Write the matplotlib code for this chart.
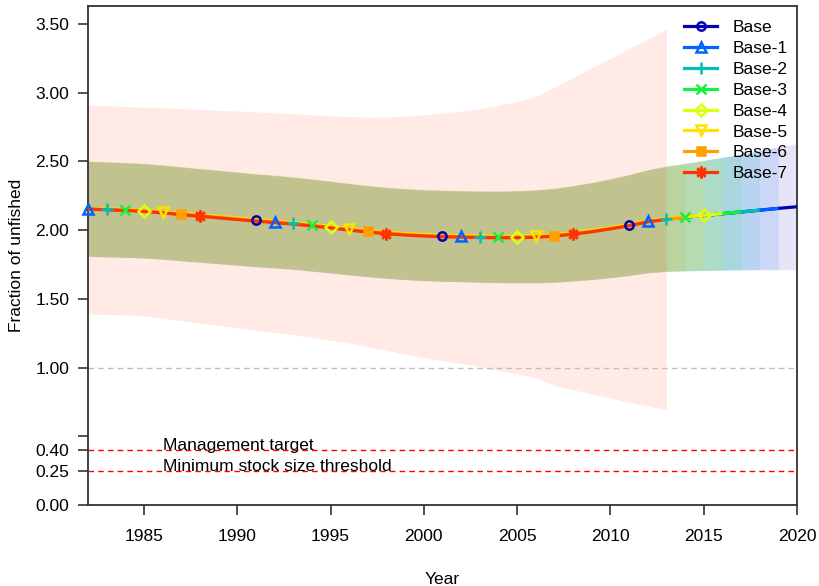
import numpy as np
import matplotlib
matplotlib.use("Agg")
import matplotlib.pyplot as plt

plt.rcParams["font.family"] = ["Liberation Sans", "DejaVu Sans"]

# ---- data -----------------------------------------------------------------
first_year = 1982
model_names = ["Base", "Base-1", "Base-2", "Base-3", "Base-4", "Base-5", "Base-6", "Base-7"]
end_years = [2020, 2019, 2018, 2017, 2016, 2015, 2014, 2013]

# Spawning output relative to unfished, one series per retrospective peel
base = [2.155, 2.150, 2.146, 2.140, 2.130, 2.118, 2.106, 2.095, 2.083, 2.071,
        2.061, 2.050, 2.036, 2.022, 2.006, 1.992, 1.980, 1.970, 1.963, 1.958,
        1.955, 1.952, 1.950, 1.951, 1.954, 1.962, 1.976, 1.993, 2.013, 2.036,
        2.064, 2.082, 2.094, 2.106, 2.119, 2.132, 2.145, 2.158, 2.170]
base_1 = [2.155, 2.150, 2.146, 2.140, 2.130, 2.118, 2.106, 2.095, 2.083, 2.071,
          2.061, 2.050, 2.036, 2.022, 2.006, 1.992, 1.980, 1.970, 1.963, 1.958,
          1.955, 1.952, 1.950, 1.951, 1.954, 1.962, 1.976, 1.993, 2.013, 2.036,
          2.064, 2.082, 2.094, 2.106, 2.119, 2.132, 2.145, 2.158]
base_2 = [2.156, 2.151, 2.147, 2.141, 2.131, 2.119, 2.107, 2.096, 2.084, 2.072,
          2.062, 2.051, 2.037, 2.023, 2.007, 1.993, 1.981, 1.971, 1.964, 1.959,
          1.956, 1.953, 1.951, 1.952, 1.955, 1.963, 1.977, 1.994, 2.014, 2.037,
          2.065, 2.083, 2.095, 2.107, 2.120, 2.133, 2.146]
base_3 = [2.156, 2.151, 2.147, 2.141, 2.131, 2.119, 2.107, 2.096, 2.084, 2.072,
          2.062, 2.051, 2.037, 2.023, 2.007, 1.993, 1.981, 1.971, 1.964, 1.959,
          1.956, 1.953, 1.951, 1.952, 1.955, 1.963, 1.977, 1.994, 2.014, 2.037,
          2.065, 2.083, 2.095, 2.107, 2.120, 2.133]
base_4 = [2.157, 2.152, 2.148, 2.142, 2.132, 2.120, 2.108, 2.097, 2.085, 2.073,
          2.063, 2.052, 2.038, 2.024, 2.008, 1.994, 1.982, 1.972, 1.965, 1.960,
          1.957, 1.954, 1.952, 1.953, 1.956, 1.964, 1.978, 1.995, 2.015, 2.038,
          2.066, 2.084, 2.096, 2.108, 2.121]
base_5 = [2.158, 2.154, 2.150, 2.144, 2.135, 2.123, 2.111, 2.100, 2.088, 2.076,
          2.066, 2.055, 2.041, 2.027, 2.011, 1.997, 1.985, 1.975, 1.968, 1.963,
          1.960, 1.957, 1.955, 1.956, 1.959, 1.967, 1.981, 1.998, 2.018, 2.041,
          2.068, 2.086, 2.098, 2.110]
base_6 = [2.155, 2.150, 2.146, 2.139, 2.129, 2.117, 2.105, 2.093, 2.081, 2.069,
          2.059, 2.048, 2.034, 2.020, 2.004, 1.990, 1.978, 1.968, 1.961, 1.956,
          1.953, 1.950, 1.948, 1.949, 1.952, 1.960, 1.974, 1.991, 2.011, 2.034,
          2.062, 2.080, 2.092]
base_7 = [2.153, 2.148, 2.143, 2.136, 2.125, 2.113, 2.101, 2.089, 2.077, 2.065,
          2.055, 2.044, 2.030, 2.016, 2.000, 1.986, 1.974, 1.964, 1.957, 1.952,
          1.949, 1.946, 1.944, 1.945, 1.948, 1.956, 1.971, 1.988, 2.009, 2.032,
          2.060, 2.078]

# Half-width of the 95% interval for Base .. Base-6 (by year from 1982)
half_width = [0.345, 0.345, 0.344, 0.343, 0.342, 0.341, 0.340, 0.339, 0.338, 0.337,
              0.336, 0.335, 0.334, 0.333, 0.332, 0.331, 0.330, 0.330, 0.330, 0.330,
              0.330, 0.331, 0.332, 0.334, 0.337, 0.341, 0.346, 0.352, 0.359, 0.366,
              0.374, 0.382, 0.390, 0.400, 0.410, 0.421, 0.433, 0.446, 0.460]

# 95% interval of Base-7
base_7_upper = [2.910, 2.905, 2.900, 2.895, 2.890, 2.884, 2.878, 2.872, 2.866, 2.860,
                2.853, 2.846, 2.839, 2.832, 2.826, 2.822, 2.823, 2.829, 2.839, 2.851,
                2.866, 2.884, 2.908, 2.935, 2.970, 3.040, 3.110, 3.180, 3.250, 3.320,
                3.390, 3.460]
base_7_lower = [1.390, 1.387, 1.383, 1.376, 1.360, 1.342, 1.324, 1.306, 1.288, 1.270,
                1.255, 1.240, 1.220, 1.198, 1.178, 1.150, 1.125, 1.098, 1.072, 1.050,
                1.030, 1.007, 0.978, 0.955, 0.926, 0.868, 0.838, 0.808, 0.778, 0.749,
                0.720, 0.692]

series = [base, base_1, base_2, base_3, base_4, base_5, base_6, base_7]

colors = ["#0000B4", "#0063FF", "#00BFB4", "#14F23F", "#DDFF0B", "#FFE200",
          "#FF9F00", "#FF3300"]
markers = ["o", "^", "+", "x", "D", "v", "s", (8, 2, 0)]
marker_fill = [False, False, True, True, False, False, True, True]
marker_size = [6.0, 7.0, 8.5, 7.0, 6.0, 7.0, 6.0, 8.5]

target = 0.40
threshold = 0.25
y_ticks = [0.0, 0.25, 0.40, 0.5, 1.0, 1.5, 2.0, 2.5, 3.0, 3.5]
y_tick_labels = ["0.00", "0.25", "0.40", "", "1.00", "1.50", "2.00", "2.50", "3.00", "3.50"]
x_ticks = [1985, 1990, 1995, 2000, 2005, 2010, 2015, 2020]

FS = 12.5

# ---- figure ---------------------------------------------------------------
fig = plt.figure(figsize=(8.19, 5.86), dpi=100)
ax = fig.add_axes([0.1074, 0.1382, 0.8657, 0.8524])

# uncertainty envelopes
hw = np.array(half_width)
for i, (vals, col) in enumerate(zip(series, colors)):
    yrs = np.arange(first_year, first_year + len(vals))
    v = np.array(vals)
    if i == 7:
        lo, hi = np.array(base_7_lower), np.array(base_7_upper)
    else:
        lo, hi = v - hw[:len(v)], v + hw[:len(v)]
    ax.fill_between(yrs, lo, hi, color=col, alpha=0.1, linewidth=0, zorder=1)

# reference lines
ax.axhline(1.0, color="#BEBEBE", ls=(0, (4, 3)), lw=1.0, zorder=2)
ax.axhline(target, color="#FF0000", ls=(0, (4, 3)), lw=1.0, zorder=2)
ax.axhline(threshold, color="#FF0000", ls=(0, (4, 3)), lw=1.0, zorder=2)
ax.text(1986.0, target, "Management target", fontsize=FS, va="baseline", ha="left")
ax.text(1986.0, threshold, "Minimum stock size threshold", fontsize=FS,
        va="baseline", ha="left")

# trajectories
for vals, col in zip(series, colors):
    yrs = np.arange(first_year, first_year + len(vals))
    ax.plot(yrs, vals, color=col, lw=2.3, zorder=3, solid_capstyle="butt")

# staggered point markers, one every ten years
handles = []
for i, (vals, col) in enumerate(zip(series, colors)):
    v = np.array(vals)
    start = 1981 + i if i > 0 else 1991
    pts = np.arange(start, end_years[i] + 1, 10)
    pts = pts[pts >= first_year]
    idx = pts - first_year
    fc = col if marker_fill[i] else "none"
    ax.plot(pts, v[idx], ls="none", marker=markers[i], ms=marker_size[i],
            mfc=fc, mec=col, mew=1.8, zorder=4, clip_on=False)
    h, = ax.plot([], [], color=col, lw=2.3, marker=markers[i], ms=marker_size[i],
                 mfc=fc, mec=col, mew=1.8)
    handles.append(h)

ax.set_xlim(1982, 2020)
ax.set_ylim(0, 3.634)
ax.set_yticks(y_ticks)
ax.set_yticklabels(y_tick_labels)
ax.set_xticks(x_ticks)
ax.tick_params(axis="both", labelsize=FS, length=7.5, width=1.2, color="#333333",
               direction="out")
ax.tick_params(axis="x", pad=10)
ax.tick_params(axis="y", pad=6)
for s in ax.spines.values():
    s.set_color("#333333")
    s.set_linewidth(1.3)

ax.set_xlabel("Year", fontsize=FS, labelpad=20)
ax.set_ylabel("Fraction of unfished", fontsize=FS, labelpad=8)

ax.legend(handles, model_names, loc="upper right", frameon=False, fontsize=FS,
          handlelength=1.9, handletextpad=0.9, labelspacing=0.33,
          bbox_to_anchor=(0.997, 0.985), borderaxespad=0.0)

fig.savefig("out.png", dpi=100)
